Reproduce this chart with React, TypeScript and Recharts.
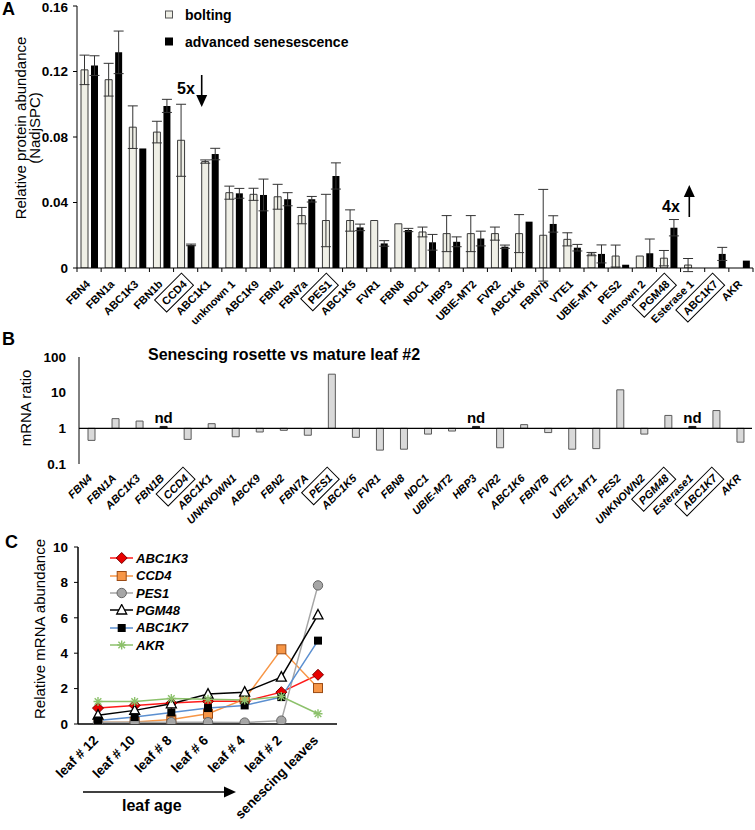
import React from "react"
import {
  BarChart,
  Bar,
  XAxis,
  YAxis,
  ErrorBar,
  LineChart,
  Line,
  ReferenceLine,
  Legend,
  LabelList,
  Cell,
} from "recharts"

const FONT = "'Liberation Sans', Arial, sans-serif"

// ---------- Panel A: protein abundance ----------
const proteinGenes = [
  "FBN4", "FBN1a", "ABC1K3", "FBN1b", "CCD4", "ABC1K1", "unknown 1", "ABC1K9",
  "FBN2", "FBN7a", "PES1", "ABC1K5", "FVR1", "FBN8", "NDC1", "HBP3", "UBIE-MT2",
  "FVR2", "ABC1K6", "FBN7b", "VTE1", "UBIE-MT1", "PES2", "unknown 2", "PGM48",
  "Esterase 1", "ABC1K7", "AKR",
]
const boltingMean = [
  0.121, 0.115, 0.086, 0.083, 0.078, 0.065, 0.046, 0.045, 0.0435, 0.032, 0.029,
  0.029, 0.029, 0.027, 0.022, 0.021, 0.021, 0.021, 0.021, 0.020, 0.0175, 0.0085,
  0.0073, 0.0073, 0.006, 0.0018, 0, 0,
]
const boltingErr = [
  0.009, 0.010, 0.013, 0.0066, 0.022, 0.001, 0.004, 0.0037, 0.0076, 0.005, 0.016,
  0.0065, null, null, 0.003, 0.011, 0.011, 0.004, 0.0116, 0.028, 0.004, 0.001,
  0.0067, null, 0.0047, 0.004, null, null,
]
const senescenceMean = [
  0.1236, 0.1317, 0.073, 0.099, 0.0141, 0.0696, 0.0456, 0.0446, 0.042, 0.042,
  0.0562, 0.0248, 0.015, 0.0232, 0.0157, 0.016, 0.018, 0.013, 0.0283, 0.0269,
  0.0124, 0.0086, 0.002, 0.009, 0.0246, 0, 0.0086, 0.0045,
]
const senescenceErr = [
  0.006, 0.013, null, 0.004, 0.0005, 0.0035, 0.003, 0.0097, 0.004, 0.0017, 0.008,
  0.002, 0.0017, 0.001, 0.0048, 0.003, 0.0045, 0.001, null, 0.005, 0.002, 0.0055,
  null, 0.0087, 0.005, null, 0.004, null,
]
const proteinTicks = [0, 0.04, 0.08, 0.12, 0.16]
const proteinSeries = ["bolting", "advanced senesescence"]

// ---------- Panel B: mRNA ratio ----------
const mrnaGenes = [
  "FBN4", "FBN1A", "ABC1K3", "FBN1B", "CCD4", "ABC1K1", "UNKNOWN1", "ABCK9",
  "FBN2", "FBN7A", "PES1", "ABC1K5", "FVR1", "FBN8", "NDC1", "UBIE-MT2", "HBP3",
  "FVR2", "ABC1K6", "FBN7B", "VTE1", "UBIE1-MT1", "PES2", "UNKNOWN2", "PGM48",
  "Esterase1", "ABC1K7", "AKR",
]
// null = not detected (nd)
const mrnaRatio = [
  0.46, 1.87, 1.6, null, 0.49, 1.35, 0.58, 0.79, 0.88, 0.64, 33, 0.56, 0.245,
  0.26, 0.69, 0.84, null, 0.285, 1.27, 0.76, 0.26, 0.27, 12, 0.69, 2.3, null,
  3.15, 0.41,
]
const ratioTicks = [0.1, 1, 10, 100]

// ---------- Panel C: mRNA over leaf age ----------
const leafStages = [
  "leaf # 12", "leaf # 10", "leaf # 8", "leaf # 6", "leaf # 4", "leaf # 2",
  "senescing leaves",
]
const abc1k3 = [0.9, 1.05, 1.18, 1.28, 1.28, 1.8, 2.78]
const ccd4 = [0.1, 0.12, 0.25, 0.58, 1.4, 4.22, 2.03]
const pes1 = [0.1, 0.1, 0.1, 0.1, 0.08, 0.19, 7.83]
const pgm48 = [0.5, 0.77, 1.14, 1.69, 1.8, 2.65, 6.16]
const abc1k7 = [0.2, 0.39, 0.65, 0.9, 1.05, 1.52, 4.71]
const akr = [1.27, 1.27, 1.44, 1.4, 1.35, 1.55, 0.58]
const abundanceTicks = [0, 2, 4, 6, 8, 10]

const BOXED = new Set(["CCD4", "PES1", "PGM48", "ABC1K7"])

const proteinRows = proteinGenes.map((gene, i) => ({
  gene,
  bolting: boltingMean[i],
  boltingErr: boltingErr[i],
  senescence: senescenceMean[i],
  senescenceErr: senescenceErr[i],
}))

const ratioRows = mrnaGenes.map((gene, i) => {
  const r = mrnaRatio[i]
  const nd = r == null
  return {
    gene,
    range: nd ? [1, 1.13] : [Math.min(1, r), Math.max(1, r)],
    nd: nd ? "nd" : null,
  }
})

const lineSeries = [
  { name: "ABC1K3", values: abc1k3, color: "#FF1A1A", marker: "diamond" },
  { name: "CCD4", values: ccd4, color: "#F79646", marker: "square" },
  { name: "PES1", values: pes1, color: "#A6A6A6", marker: "circle" },
  { name: "PGM48", values: pgm48, color: "#000000", marker: "triangle" },
  { name: "ABC1K7", values: abc1k7, color: "#5B8FD0", marker: "blacksquare" },
  { name: "AKR", values: akr, color: "#8CC16B", marker: "star" },
]

const stageRows = leafStages.map((stage, i) => {
  const row: any = { stage }
  lineSeries.forEach((s) => (row[s.name] = s.values[i]))
  return row
})

// rough bold Arial widths, only for the boxes round some labels
function textWidth(s: string, size: number) {
  let w = 0
  for (const ch of s) {
    if (ch === "M") w += 0.833
    else if (ch === "G") w += 0.778
    else if (/[PES]/.test(ch)) w += 0.667
    else if (/[A-Z]/.test(ch)) w += 0.722
    else if (/[0-9]/.test(ch)) w += 0.556
    else w += 0.58
  }
  return w * size
}

const BAND_A = (753 - 77) / 28

// label rotated 45deg, its end sitting just under the tick
function GeneLabel({ x, y, label, size, italic }: any) {
  const boxed = BOXED.has(label)
  const w = textWidth(label, size)
  const rot = `rotate(-45 ${x} ${y})`
  return (
    <g>
      {boxed && (
        <rect
          x={x - w - 4}
          y={y - 8.5}
          width={w + 8}
          height={17}
          fill="none"
          stroke="#000"
          strokeWidth={1}
          transform={rot}
        />
      )}
      <text
        x={x}
        y={y}
        transform={rot}
        textAnchor="end"
        dominantBaseline="central"
        fontSize={size}
        fontWeight="bold"
        fontStyle={italic ? "italic" : "normal"}
        fontFamily={FONT}
        fill="#000"
      >
        {label}
      </text>
    </g>
  )
}

function ProteinTick(props: any) {
  const { x, payload, index } = props
  const axisY = 268
  const left = x - BAND_A / 2
  return (
    <g>
      <line x1={left} x2={left} y1={axisY} y2={axisY + 4} stroke="#000" />
      {index === proteinGenes.length - 1 && (
        <line x1={x + BAND_A / 2} x2={x + BAND_A / 2} y1={axisY} y2={axisY + 4} stroke="#000" />
      )}
      <GeneLabel x={x - 1} y={axisY + 14} label={String(payload.value)} size={11} />
    </g>
  )
}

function RatioTick(props: any) {
  const { x, payload } = props
  return <GeneLabel x={x - 1} y={136} label={String(payload.value)} size={11} italic />
}

function StageTick(props: any) {
  const { x, payload } = props
  const y = 208
  return (
    <text
      x={x - 2}
      y={y}
      transform={`rotate(-45 ${x - 2} ${y})`}
      textAnchor="end"
      dominantBaseline="central"
      fontSize={13.5}
      fontWeight="bold"
      fontFamily={FONT}
      fill="#000"
    >
      {payload.value}
    </text>
  )
}

function Marker({ kind, cx, cy }: any) {
  if (cx == null || cy == null) return null
  switch (kind) {
    case "diamond":
      return (
        <polygon
          points={`${cx},${cy - 5.5} ${cx + 5.5},${cy} ${cx},${cy + 5.5} ${cx - 5.5},${cy}`}
          fill="#E80000"
          stroke="#7A0000"
          strokeWidth={1}
        />
      )
    case "square":
      return <rect x={cx - 4.5} y={cy - 4.5} width={9} height={9} fill="#F79646" stroke="#9A4A14" strokeWidth={1} />
    case "circle":
      return <circle cx={cx} cy={cy} r={4.7} fill="#A6A6A6" stroke="#666" strokeWidth={1} />
    case "triangle":
      return (
        <polygon
          points={`${cx},${cy - 5.5} ${cx + 5},${cy + 4} ${cx - 5},${cy + 4}`}
          fill="#fff"
          stroke="#000"
          strokeWidth={1.3}
        />
      )
    case "blacksquare":
      return <rect x={cx - 4} y={cy - 4} width={8} height={8} fill="#000" />
    default:
      return (
        <g stroke="#8CC16B" strokeWidth={1.4}>
          <line x1={cx - 4.5} y1={cy} x2={cx + 4.5} y2={cy} />
          <line x1={cx} y1={cy - 4.5} x2={cx} y2={cy + 4.5} />
          <line x1={cx - 3.3} y1={cy - 3.3} x2={cx + 3.3} y2={cy + 3.3} />
          <line x1={cx - 3.3} y1={cy + 3.3} x2={cx + 3.3} y2={cy - 3.3} />
        </g>
      )
  }
}

const BOLT_FILL = "#EFEFE6"

function ProteinLegend() {
  const styles = [
    { fill: BOLT_FILL, stroke: "#555" },
    { fill: "#000", stroke: "#000" },
  ]
  return (
    <div style={{ fontFamily: FONT, fontSize: 14, fontWeight: "bold", color: "#000" }}>
      {proteinSeries.map((name, i) => (
        <div key={name} style={{ display: "flex", alignItems: "center", height: 27 }}>
          <svg width={22} height={10}>
            <rect x={2.5} y={1} width={7} height={7} fill={styles[i].fill} stroke={styles[i].stroke} />
          </svg>
          <span>{name}</span>
        </div>
      ))}
    </div>
  )
}

function StageLegend() {
  return (
    <div style={{ fontFamily: FONT, fontSize: 13, fontWeight: "bold", fontStyle: "italic", color: "#000" }}>
      {lineSeries.map((s) => (
        <div key={s.name} style={{ display: "flex", alignItems: "center", height: 17.4 }}>
          <svg width={26} height={12} style={{ marginRight: 2 }}>
            <line x1={2} x2={25} y1={6} y2={6} stroke={s.color} strokeWidth={1.5} />
            <Marker kind={s.marker} cx={13.7} cy={6} />
          </svg>
          <span>{s.name}</span>
        </div>
      ))}
    </div>
  )
}

const tickStyle = { fontSize: 13.5, fontWeight: "bold", fill: "#000", fontFamily: FONT }

export default function App() {
  return (
    <div style={{ position: "absolute", left: 0, top: 0, width: 755, height: 830, background: "#fff" }}>
      {/* A */}
      <div style={{ position: "absolute", left: 0, top: 0 }}>
        <BarChart
          width={755}
          height={340}
          data={proteinRows}
          margin={{ top: 6, right: 2, bottom: 0, left: 0 }}
          barSize={7}
          barGap={3}
        >
          <XAxis
            dataKey="gene"
            interval={0}
            height={72}
            tickLine={false}
            axisLine={{ stroke: "#000" }}
            tick={<ProteinTick />}
          />
          <YAxis
            width={77}
            domain={[0, 0.16]}
            ticks={proteinTicks}
            allowDataOverflow
            tickFormatter={(v: number) => (v === 0 ? "0" : v.toFixed(2))}
            tick={tickStyle}
            tickSize={4}
            tickMargin={5}
            axisLine={{ stroke: "#000" }}
            tickLine={{ stroke: "#000" }}
          />
          <Legend
            layout="vertical"
            align="center"
            verticalAlign="middle"
            wrapperStyle={{ top: 1, left: 163, width: 240 }}
            content={() => <ProteinLegend />}
          />
          <Bar dataKey="bolting" name={proteinSeries[0]} fill={BOLT_FILL} stroke="#3a3a3a" strokeWidth={1} isAnimationActive={false}>
            <ErrorBar dataKey="boltingErr" width={5} stroke="#333" strokeWidth={1} />
          </Bar>
          <Bar dataKey="senescence" name={proteinSeries[1]} fill="#000" isAnimationActive={false}>
            <ErrorBar dataKey="senescenceErr" width={5} stroke="#333" strokeWidth={1} />
          </Bar>
        </BarChart>
      </div>

      {/* B */}
      <div style={{ position: "absolute", left: 0, top: 340 }}>
        <BarChart width={755} height={195} data={ratioRows} margin={{ top: 17, right: 3, bottom: 0, left: 0 }} barSize={7}>
          <XAxis dataKey="gene" interval={0} height={71} axisLine={false} tickLine={false} tick={<RatioTick />} />
          <YAxis
            width={79}
            type="number"
            scale="log"
            domain={[0.1, 100]}
            ticks={ratioTicks}
            allowDataOverflow
            tickFormatter={(v: number) => String(v)}
            tick={tickStyle}
            tickLine={false}
            tickSize={10}
            tickMargin={3}
            axisLine={{ stroke: "#000" }}
          />
          <ReferenceLine y={1} stroke="#000" strokeWidth={1.3} />
          <Bar dataKey="range" isAnimationActive={false}>
            {ratioRows.map((r, i) => (
              <Cell
                key={i}
                fill={r.nd ? "#222" : "#D9D9D9"}
                stroke={r.nd ? "#222" : "#5a5a5a"}
                strokeWidth={1}
              />
            ))}
            <LabelList
              dataKey="nd"
              position="top"
              offset={3}
              style={{ fontSize: 15, fontWeight: "bold", fill: "#000", fontFamily: FONT }}
            />
          </Bar>
        </BarChart>
      </div>

      {/* C */}
      <div style={{ position: "absolute", left: 0, top: 530 }}>
        <LineChart width={340} height={300} data={stageRows} margin={{ top: 17, right: 3, bottom: 0, left: 0 }}>
          <XAxis
            dataKey="stage"
            scale="point"
            padding={{ left: 20, right: 19 }}
            interval={0}
            height={106}
            tickLine={false}
            axisLine={{ stroke: "#000", strokeWidth: 1.5 }}
            tick={<StageTick />}
          />
          <YAxis
            width={78}
            domain={[0, 10]}
            ticks={abundanceTicks}
            allowDataOverflow
            tick={tickStyle}
            tickSize={4}
            tickMargin={6}
            axisLine={{ stroke: "#000", strokeWidth: 1.5 }}
            tickLine={{ stroke: "#000" }}
          />
          <Legend
            layout="vertical"
            align="center"
            verticalAlign="middle"
            wrapperStyle={{ top: 19.6, left: 108, width: 130 }}
            content={() => <StageLegend />}
          />
          {lineSeries.map((s) => (
            <Line
              key={s.name}
              dataKey={s.name}
              stroke={s.color}
              strokeWidth={1.5}
              isAnimationActive={false}
              activeDot={false}
              dot={(p: any) => <Marker key={`${s.name}-${p.index}`} kind={s.marker} cx={p.cx} cy={p.cy} />}
            />
          ))}
        </LineChart>
      </div>

      {/* annotations */}
      <svg
        width={755}
        height={830}
        style={{ position: "absolute", left: 0, top: 0, pointerEvents: "none" }}
        fontFamily={FONT}
      >
        <text x={2} y={15} fontSize={18} fontWeight="bold">A</text>
        <text x={2} y={345} fontSize={18} fontWeight="bold">B</text>
        <text x={5} y={548} fontSize={18} fontWeight="bold">C</text>

        <text transform="translate(26,128) rotate(-90)" textAnchor="middle" fontSize={15}>
          Relative protein abundance
        </text>
        <text transform="translate(39.5,128) rotate(-90)" textAnchor="middle" fontSize={15}>
          (NadjSPC)
        </text>

        <text x={177} y={94} fontSize={16} fontWeight="bold">5x</text>
        <line x1={201.7} x2={201.7} y1={75} y2={97} stroke="#000" strokeWidth={1.6} />
        <polygon points="196.2,95 207.2,95 201.7,107" fill="#000" />

        <text x={662} y={211.5} fontSize={16} fontWeight="bold">4x</text>
        <line x1={689.3} x2={689.3} y1={217} y2={195} stroke="#000" strokeWidth={1.6} />
        <polygon points="683.8,197 694.8,197 689.3,185" fill="#000" />

        <text x={148} y={360} fontSize={16} fontWeight="bold">
          Senescing rosette vs mature leaf #2
        </text>
        <text transform="translate(31,408) rotate(-90)" textAnchor="middle" fontSize={15}>
          mRNA ratio
        </text>

        <text transform="translate(45,629) rotate(-90)" textAnchor="middle" fontSize={15}>
          Relative mRNA abundance
        </text>
        <line x1={83} x2={226} y1={792} y2={792} stroke="#000" strokeWidth={1.6} />
        <polygon points="224,786.5 236,792 224,797.5" fill="#000" />
        <text x={122} y={811} fontSize={16} fontWeight="bold">leaf age</text>
      </svg>
    </div>
  )
}
